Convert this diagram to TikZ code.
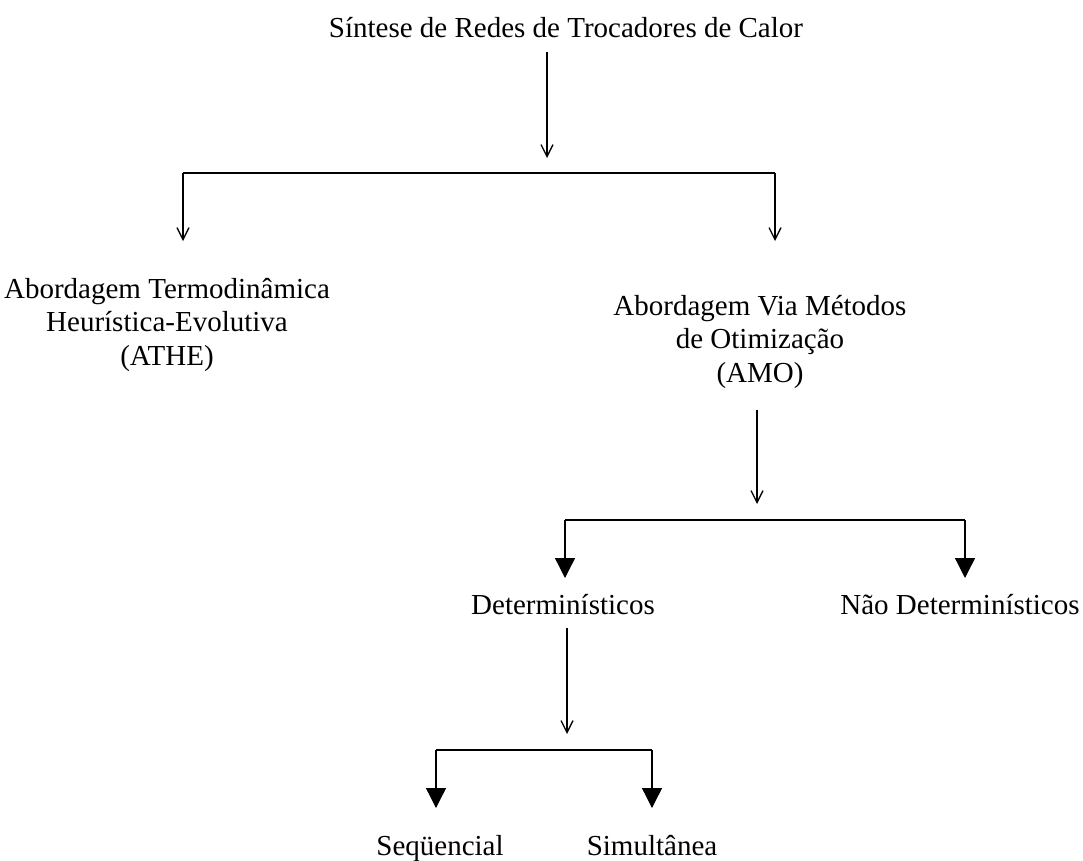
\documentclass[tikz,border=0pt]{standalone}
\usepackage{fontspec}
\setmainfont{Liberation Serif}
\usetikzlibrary{arrows.meta}
\begin{document}
\begin{tikzpicture}[x=1pt,y=-1pt,
  lbl/.style={font=\fontsize{29}{33.5}\selectfont, align=center, inner sep=0pt, anchor=base},
  openarr/.style={line width=1.3pt, -{Straight Barb[length=12pt,width=12pt,line width=1.3pt]}},
  filarr/.style={line width=1.3pt, -{Triangle[length=20pt,width=20pt]}},
  bar/.style={line width=1.3pt}]
\useasboundingbox (0,0) rectangle (1083,860);
\node[lbl] (title) at (566,37) {Síntese de Redes de Trocadores de Calor};
\coordinate (t1) at (547,52);
\coordinate (t2) at (547,158);
\draw[openarr] (t1) -- (t2);
\coordinate (hl) at (183,173);
\coordinate (hr) at (775,173);
\coordinate (al) at (183,241);
\coordinate (ar) at (775,241);
\draw[bar] (hl) -- (hr);
\draw[openarr] (hl) -- (al);
\draw[openarr] (hr) -- (ar);
\node[lbl] (athe) at (167,365) {Abordagem Termodinâmica\\Heurística-Evolutiva\\(ATHE)};
\node[lbl] (amo) at (760,382) {Abordagem Via Métodos\\de Otimização\\(AMO)};
\coordinate (m1) at (757,410);
\coordinate (m2) at (757,504);
\draw[openarr] (m1) -- (m2);
\coordinate (dl) at (565,520);
\coordinate (dr) at (965,520);
\coordinate (dla) at (565,578);
\coordinate (dra) at (965,578);
\draw[bar] (dl) -- (dr);
\draw[filarr] (dl) -- (dla);
\draw[filarr] (dr) -- (dra);
\node[lbl] (det) at (563,614) {Determinísticos};
\node[lbl] (ndet) at (960,614) {Não Determinísticos};
\coordinate (s1) at (567,628);
\coordinate (s2) at (567,734);
\draw[openarr] (s1) -- (s2);
\coordinate (sl) at (436,750);
\coordinate (sr) at (652,750);
\coordinate (sla) at (436,808);
\coordinate (sra) at (652,808);
\draw[bar] (sl) -- (sr);
\draw[filarr] (sl) -- (sla);
\draw[filarr] (sr) -- (sra);
\node[lbl] (seq) at (440,855) {Seqüencial};
\node[lbl] (sim) at (652,855) {Simultânea};
\end{tikzpicture}
\end{document}
